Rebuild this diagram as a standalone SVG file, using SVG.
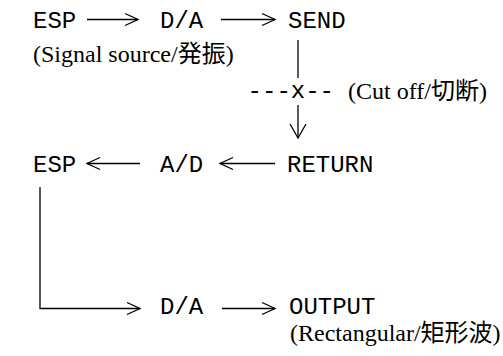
<svg xmlns="http://www.w3.org/2000/svg" width="503" height="356" viewBox="0 0 503 356">
<style>
.m{font-family:"Liberation Mono",monospace;font-size:24px;fill:#000}
.s{font-family:"Liberation Serif","Noto Sans CJK JP",serif;font-size:24px;fill:#000}
.c{fill:none;stroke:#000;stroke-width:1.3}
</style>
<defs>
<marker id="ah" markerUnits="userSpaceOnUse" markerWidth="20" markerHeight="20" viewBox="-15 -10 20 20" refX="0" refY="0" orient="auto">
<path d="M-13,-6 L0,0 L-13,6" fill="none" stroke="#000" stroke-width="1.3"/>
</marker>
<marker id="ahv" markerUnits="userSpaceOnUse" markerWidth="20" markerHeight="20" viewBox="-15 -10 20 20" refX="0" refY="0" orient="auto">
<path d="M-14,-8 L0,0 L-14,8" fill="none" stroke="#000" stroke-width="1.3"/>
</marker>
</defs>
<rect width="503" height="356" fill="#fff"/>
<g id="esp1"><text class="m" x="33" y="27.5">ESP</text></g>
<g id="da1"><text class="m" x="160" y="27.5">D/A</text></g>
<g id="send"><text class="m" x="288" y="27.5">SEND</text></g>
<g id="signal-label"><text class="s" x="33" y="62">(Signal source/発振)</text></g>
<g id="cutoff"><text class="m" x="247.6" y="98">---x--</text><text class="s" x="348" y="99">(Cut off/切断)</text></g>
<g id="esp2"><text class="m" x="33" y="171.5">ESP</text></g>
<g id="ad"><text class="m" x="160" y="171.5">A/D</text></g>
<g id="return"><text class="m" x="287" y="171.5">RETURN</text></g>
<g id="da2"><text class="m" x="160" y="314">D/A</text></g>
<g id="output"><text class="m" x="289" y="314">OUTPUT</text></g>
<g id="rect-label"><text class="s" x="290" y="341">(Rectangular/矩形波)</text></g>
<g id="connectors">
<path class="c" d="M87,19.5 H138" marker-end="url(#ah)"/>
<path class="c" d="M221,19.5 H275" marker-end="url(#ah)"/>
<path class="c" d="M298,40 V78"/>
<path class="c" d="M298,105 V138" marker-end="url(#ahv)"/>
<path class="c" d="M275,163.5 H220" marker-end="url(#ah)"/>
<path class="c" d="M140,163.5 H87" marker-end="url(#ah)"/>
<path class="c" d="M40,187 V308.5 H140" marker-end="url(#ah)"/>
<path class="c" d="M222,308.5 H275" marker-end="url(#ah)"/>
</g>
</svg>
